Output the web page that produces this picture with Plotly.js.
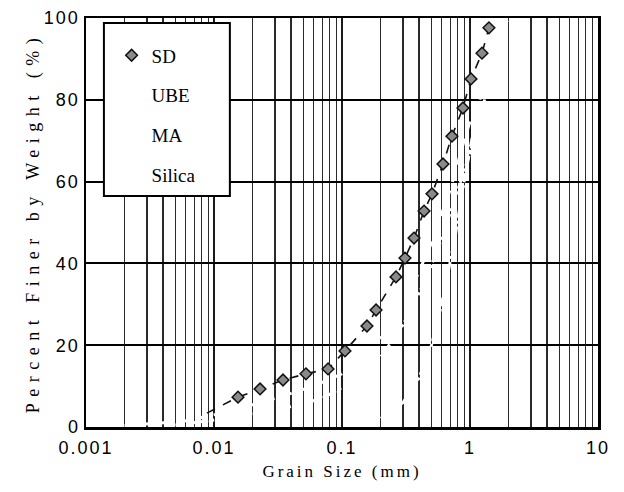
<!DOCTYPE html>
<html>
<head>
<meta charset="utf-8">
<script src="https://cdn.plot.ly/plotly-3.0.1.min.js"></script>
<style>
  html, body { margin: 0; padding: 0; background: #fff; }
  #chart { width: 624px; height: 492px; }
</style>
</head>
<body>
<div id="chart"></div>
<script>
// ---- data ----
const seriesNames = ["SD", "UBE", "MA", "Silica"];

const sdSize    = [0.0088, 0.0154, 0.0229, 0.0346, 0.0523, 0.0778, 0.1055, 0.1567, 0.1845, 0.264, 0.3105, 0.3652, 0.4375, 0.5047, 0.615, 0.7227, 0.881, 1.018, 1.241, 1.406];
const sdFiner   = [3.4, 7.3, 9.3, 11.5, 13.0, 14.2, 18.6, 24.7, 28.6, 36.7, 41.3, 46.2, 52.8, 57.0, 64.3, 71.1, 78.0, 85.1, 91.4, 97.6];

const ubeSize   = [0.002, 0.006, 0.012, 0.03, 0.06, 0.1, 0.2, 0.35, 0.5, 0.7, 0.9, 1.2, 1.6, 2.0];
const ubeFiner  = [0.3, 1.5, 3.5, 7, 10, 13, 22, 34, 45, 58, 70, 83, 94, 100];

const maSize    = [0.005, 0.012, 0.03, 0.07, 0.12, 0.2, 0.3, 0.45, 0.6, 0.8, 1.0, 1.3, 1.7];
const maFiner   = [0.5, 2, 4, 7, 11, 17, 25, 36, 46, 58, 67, 80, 95];

const silSize   = [0.12, 0.2, 0.3, 0.4, 0.5, 0.6, 0.75, 0.9, 1.1, 1.4, 1.8];
const silFiner  = [0, 2, 6, 12, 20, 30, 45, 60, 75, 90, 100];

const xTickVals = [0.001, 0.01, 0.1, 1, 10];
const xTickText = ["0.001", "0.01", "0.1", "1", "10"];
const yTickVals = [0, 20, 40, 60, 80, 100];

// minor grid positions: 2..9 within each decade
const minorVals = [];
xTickVals.slice(0, -1).forEach(d => { for (let k = 2; k <= 9; k++) minorVals.push(d * k); });

// ---- traces ----
const traces = [
  { // SD connecting line (not in legend)
    name: seriesNames[0], legendgroup: "g0", showlegend: false, hoverinfo: "skip",
    x: sdSize, y: sdFiner, type: "scatter", mode: "lines",
    line: { color: "#111", width: 1.6, dash: "dash" }
  },
  {
    name: seriesNames[0], legendgroup: "g0",
    x: sdSize.slice(1), y: sdFiner.slice(1), type: "scatter", mode: "markers",
    marker: { symbol: "diamond", size: 9,
              color: "#8a8a8a", line: { color: "#111", width: 1.5 } }
  },
  {
    name: seriesNames[1], legendgroup: "g1",
    x: ubeSize, y: ubeFiner, type: "scatter", mode: "lines",
    line: { color: "#ffffff", width: 3, dash: "dash" }
  },
  {
    name: seriesNames[2], legendgroup: "g2",
    x: maSize, y: maFiner, type: "scatter", mode: "lines",
    line: { color: "#ffffff", width: 3, dash: "dot" }
  },
  {
    name: seriesNames[3], legendgroup: "g3",
    x: silSize, y: silFiner, type: "scatter", mode: "lines",
    line: { color: "#ffffff", width: 3, dash: "dashdot" }
  }
];

const layout = {
  width: 624, height: 492,
  margin: { l: 86, r: 26, t: 18, b: 65 },
  paper_bgcolor: "#fff", plot_bgcolor: "#fff",
  font: { family: "Liberation Sans, Arial, sans-serif", color: "#000" },
  showlegend: true,
  legend: {
    x: 0.05, y: 0.955, xanchor: "left", yanchor: "top",
    bgcolor: "rgba(0,0,0,0)", borderwidth: 0,
    traceorder: "grouped", tracegroupgap: 12,
    font: { family: "Liberation Serif, Times New Roman, serif", size: 19, color: "#000" }
  },
  xaxis: {
    type: "log", range: [-3, 1],
    tickvals: xTickVals, ticktext: xTickText, ticks: "",
    ticklabelstandoff: 3,
    tickfont: { size: 18, family: "Liberation Sans, Arial, sans-serif" },
    showgrid: true, gridcolor: "#1a1a1a", gridwidth: 1.5,
    minor: { tickvals: minorVals, showgrid: true, gridcolor: "#2a2a2a", gridwidth: 1.2, ticks: "" },
    showline: true, linecolor: "#000", linewidth: 2.5, mirror: true,
    zeroline: false,
    title: { text: "Grain Size (mm)", standoff: 8,
             font: { family: "Liberation Serif, Times New Roman, serif", size: 17 } }
  },
  yaxis: {
    range: [0, 100], tickvals: yTickVals, ticks: "",
    tickfont: { size: 18, family: "Liberation Sans, Arial, sans-serif" },
    showgrid: true, gridcolor: "#000", gridwidth: 2,
    showline: true, linecolor: "#000", linewidth: 2.5, mirror: true,
    zeroline: false,
    title: { text: "Percent Finer by Weight (%)", standoff: 6,
             font: { family: "Liberation Serif, Times New Roman, serif", size: 18 } }
  },
  shapes: [
    { type: "rect", xref: "paper", yref: "paper", layer: "above",
      x0: 0.035, x1: 0.281, y0: 0.565, y1: 0.988,
      fillcolor: "#ffffff", line: { color: "#000", width: 2 } }
  ]
};

Plotly.newPlot("chart", traces, layout, { displayModeBar: false, staticPlot: true }).then(function (gd) {
  gd.querySelectorAll(".g-xtitle text").forEach(t => t.style.letterSpacing = "3px");
  gd.querySelectorAll(".g-ytitle text").forEach(t => t.style.letterSpacing = "6.5px");
  gd.querySelectorAll(".xtick text, .ytick text").forEach(t => t.style.letterSpacing = "2px");
});
</script>
</body>
</html>
